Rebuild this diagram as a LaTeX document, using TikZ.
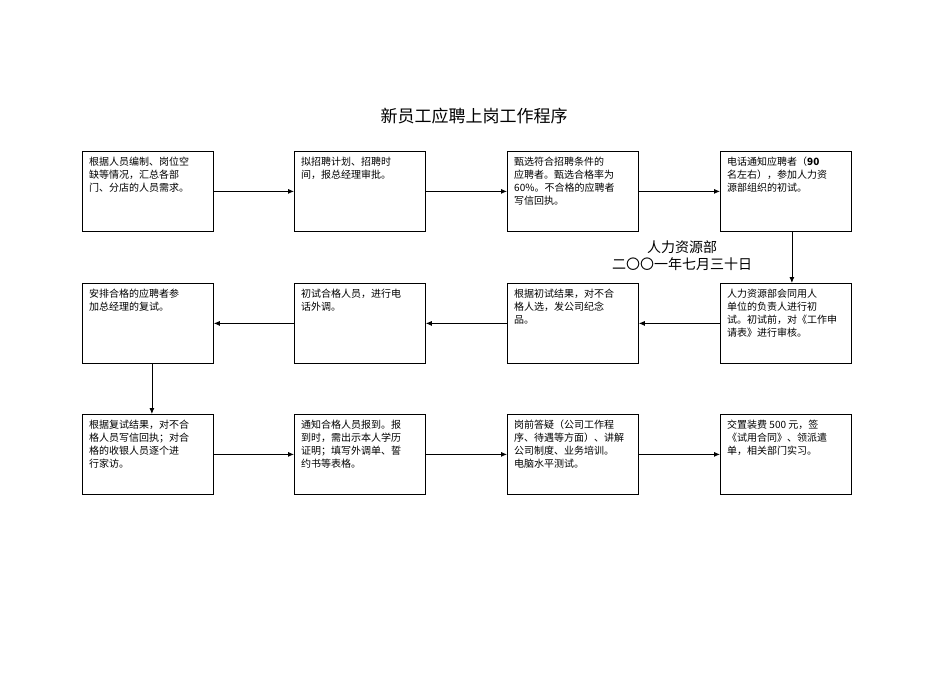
\documentclass[tikz,border=0pt]{standalone}
\usepackage{fontspec}
\setmainfont{Noto Sans CJK SC}
\usetikzlibrary{arrows.meta}
\begin{document}
\begin{tikzpicture}[x=1pt,y=-1pt,
  bx/.style={draw,line width=0.8pt,minimum width=131pt,minimum height=80pt,anchor=north west,inner sep=0pt},
  tx/.style={anchor=north west,align=left,font=\fontsize{10}{13}\selectfont,inner sep=0pt},
  ar/.style={-{Latex[length=6pt,width=5pt]},line width=0.8pt}]
\useasboundingbox (0,0) rectangle (950,672);
\node (title) at (474,116) {\fontsize{17}{20}\selectfont 新员工应聘上岗工作程序};
\node[align=center,font=\fontsize{14}{17}\selectfont] (date) at (682,256) {人力资源部\\二〇〇一年七月三十日};
% row 1
\node[bx] (a1) at (82,151) {}; \node[tx] at (89,157) {根据人员编制、岗位空\\缺等情况，汇总各部\\门、分店的人员需求。};
\node[bx] (a2) at (294,151) {}; \node[tx] at (301,157) {拟招聘计划、招聘时\\间，报总经理审批。};
\node[bx] (a3) at (507,151) {}; \node[tx] at (514,157) {甄选符合招聘条件的\\应聘者。甄选合格率为\\60\%。不合格的应聘者\\写信回执。};
\node[bx] (a4) at (720,151) {}; \node[tx] at (727,157) {电话通知应聘者（\textbf{90}\\名左右），参加人力资\\源部组织的初试。};
% row 2
\node[bx] (b1) at (82,283) {}; \node[tx] at (89,289) {安排合格的应聘者参\\加总经理的复试。};
\node[bx] (b2) at (294,283) {}; \node[tx] at (301,289) {初试合格人员，进行电\\话外调。};
\node[bx] (b3) at (507,283) {}; \node[tx] at (514,289) {根据初试结果，对不合\\格人选，发公司纪念\\品。};
\node[bx] (b4) at (720,283) {}; \node[tx] at (727,289) {人力资源部会同用人\\单位的负责人进行初\\试。初试前，对《工作申\\请表》进行审核。};
% row 3
\node[bx] (c1) at (82,414) {}; \node[tx] at (89,420) {根据复试结果，对不合\\格人员写信回执；对合\\格的收银人员逐个进\\行家访。};
\node[bx] (c2) at (294,414) {}; \node[tx] at (301,420) {通知合格人员报到。报\\到时，需出示本人学历\\证明；填写外调单、誓\\约书等表格。};
\node[bx] (c3) at (507,414) {}; \node[tx] at (514,420) {岗前答疑（公司工作程\\序、待遇等方面）、讲解\\公司制度、业务培训。\\电脑水平测试。};
\node[bx] (c4) at (720,414) {}; \node[tx] at (727,420) {交置装费 500 元，签\\《试用合同》、领派遣\\单，相关部门实习。};
\draw[ar] (a1.east) -- (a2.west);
\draw[ar] (a2.east) -- (a3.west);
\draw[ar] (a3.east) -- (a4.west);
\draw[ar] ([xshift=6pt]a4.south) -- ([xshift=6pt]b4.north);
\draw[ar] (b4.west) -- (b3.east);
\draw[ar] (b3.west) -- (b2.east);
\draw[ar] (b2.west) -- (b1.east);
\draw[ar] ([xshift=4pt]b1.south) -- ([xshift=4pt]c1.north);
\draw[ar] (c1.east) -- (c2.west);
\draw[ar] (c2.east) -- (c3.west);
\draw[ar] (c3.east) -- (c4.west);
\end{tikzpicture}
\end{document}
